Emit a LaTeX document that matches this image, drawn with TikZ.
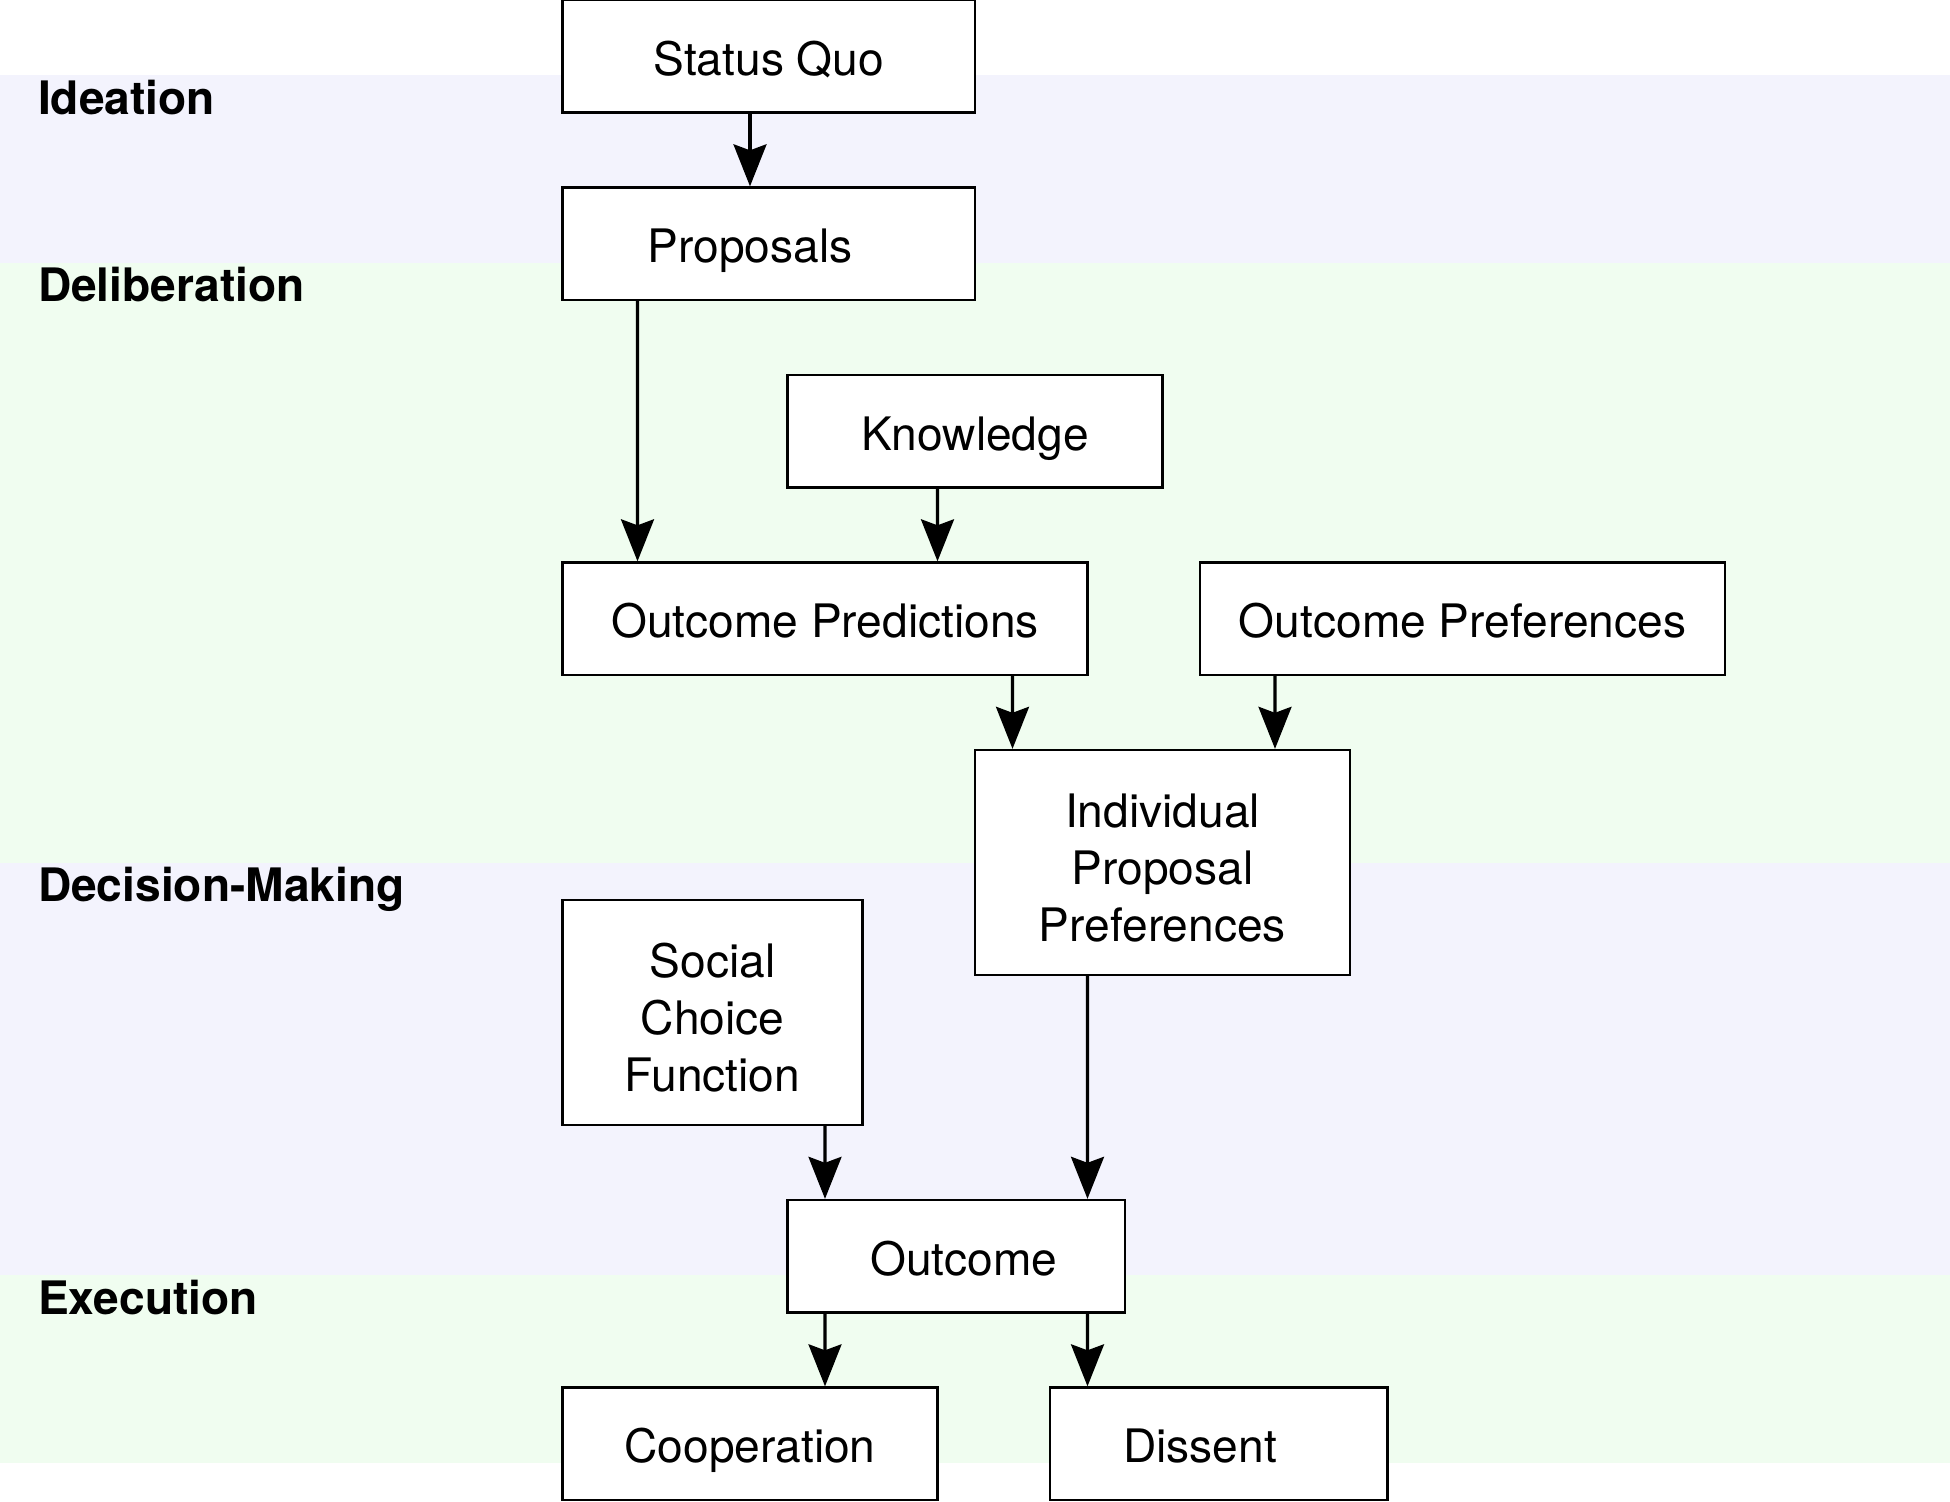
\documentclass[tikz,border=0pt]{standalone}
\usepackage{fontspec}
\setmainfont{TeX Gyre Heros}
\usetikzlibrary{arrows.meta}
\definecolor{bandA}{HTML}{F3F3FD}
\definecolor{bandB}{HTML}{F0FDF0}
\tikzset{
  box/.style={draw=black, line width=0.9pt, fill=white, rectangle, inner sep=0pt},
  txt/.style={anchor=base, inner sep=0pt, font=\fontsize{17.5}{21.6}\selectfont},
  mtxt/.style={anchor=center, inner sep=0pt, align=center, font=\fontsize{17.5}{21.6}\selectfont},
  arr/.style={line width=1.15pt, -{Stealth[length=0.56cm, width=0.44cm, inset=0.08cm]}},
  phase/.style={anchor=base west, inner sep=0pt, font=\fontsize{17.5}{21.6}\selectfont\bfseries},
}
\begin{document}
\begin{tikzpicture}[x=0.5cm, y=-0.5cm]
\useasboundingbox (0,0) rectangle (52,40.05);
% bands
\fill[bandA] (0,2) rectangle (52,7);
\fill[bandB] (0,7) rectangle (52,23);
\fill[bandA] (0,23) rectangle (52,34);
\fill[bandB] (0,34) rectangle (52,39);
\node[phase] (lid) at (1,3.05) {Ideation};
\node[phase] (lde) at (1,8.05) {Deliberation};
\node[phase] (ldm) at (1,24.05) {Decision-Making};
\node[phase] (lex) at (1,35.05) {Execution};
% boxes
\node[box, minimum width=5.5cm, minimum height=1.5cm] (sq) at (20.5,1.5) {};
\node[box, minimum width=5.5cm, minimum height=1.5cm] (prop) at (20.5,6.5) {};
\node[box, minimum width=5cm, minimum height=1.5cm] (know) at (26,11.5) {};
\node[box, minimum width=7cm, minimum height=1.5cm] (opred) at (22,16.5) {};
\node[box, minimum width=7cm, minimum height=1.5cm] (opref) at (39,16.5) {};
\node[box, minimum width=5cm, minimum height=3cm] (ipp) at (31,23) {};
\node[box, minimum width=4cm, minimum height=3cm] (scf) at (19,27) {};
\node[box, minimum width=4.5cm, minimum height=1.5cm] (out) at (25.5,33.5) {};
\node[box, minimum width=5cm, minimum height=1.5cm] (coop) at (20,38.5) {};
\node[box, minimum width=4.5cm, minimum height=1.5cm] (dis) at (32.5,38.5) {};
% texts
\node[txt] (sqt) at ([yshift=-0.25cm]sq.center) {Status Quo};
\node[txt] (propt) at ([xshift=-0.25cm, yshift=-0.25cm]prop.center) {Proposals};
\node[txt] (knowt) at ([yshift=-0.25cm]know.center) {Knowledge};
\node[txt] (opredt) at ([yshift=-0.25cm]opred.center) {Outcome Predictions};
\node[txt] (opreft) at ([yshift=-0.25cm]opref.center) {Outcome Preferences};
\node[mtxt] (ippt) at ([yshift=-0.07cm]ipp.center) {Individual\\Proposal\\Preferences};
\node[mtxt] (scft) at ([yshift=-0.07cm]scf.center) {Social\\Choice\\Function};
\node[txt] (outt) at ([xshift=0.1cm, yshift=-0.25cm]out.center) {Outcome};
\node[txt] (coopt) at ([yshift=-0.25cm]coop.center) {Cooperation};
\node[txt] (dist) at ([xshift=-0.25cm, yshift=-0.25cm]dis.center) {Dissent};
% connectors
\draw[arr] ([xshift=-0.25cm]sq.south) -- ([xshift=-0.25cm]prop.north);
\draw[arr] ([xshift=-1.75cm]prop.south) -- ([xshift=-2.5cm]opred.north);
\draw[arr] ([xshift=-0.5cm]know.south) -- ([xshift=1.5cm]opred.north);
\draw[arr] ([xshift=2.5cm]opred.south) -- ([xshift=-2cm]ipp.north);
\draw[arr] ([xshift=-2.5cm]opref.south) -- ([xshift=1.5cm]ipp.north);
\draw[arr] ([xshift=-1cm]ipp.south) -- ([xshift=1.75cm]out.north);
\draw[arr] ([xshift=1.5cm]scf.south) -- ([xshift=-1.75cm]out.north);
\draw[arr] ([xshift=-1.75cm]out.south) -- ([xshift=1cm]coop.north);
\draw[arr] ([xshift=1.75cm]out.south) -- ([xshift=-1.75cm]dis.north);
\end{tikzpicture}
\end{document}
